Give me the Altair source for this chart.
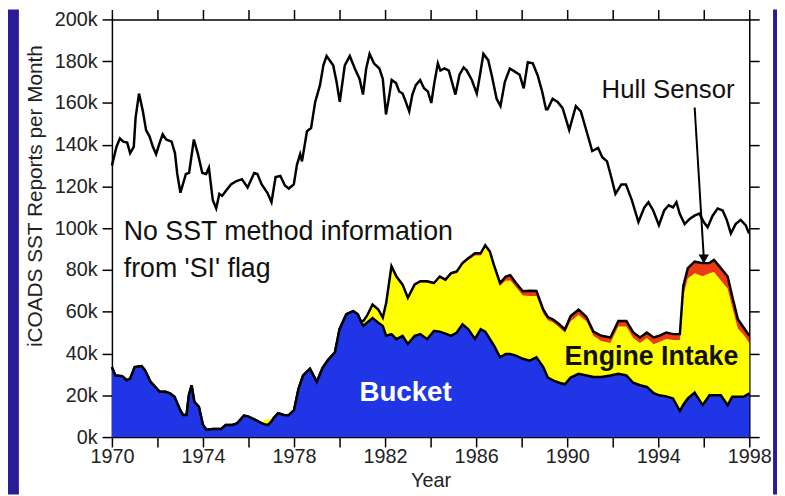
import altair as alt
import pandas as pd

# ---- total SST reports per month (thousands) ----
total_years = [1970.0, 1970.2, 1970.35, 1970.5, 1970.67, 1970.8, 1970.96, 1971.04, 1971.19, 1971.36,
               1971.5, 1971.65, 1971.8, 1971.94, 1972.1, 1972.23, 1972.38, 1972.62, 1972.77, 1972.87,
               1973.01, 1973.25, 1973.39, 1973.6, 1973.78, 1973.97, 1974.14, 1974.26, 1974.43, 1974.58,
               1974.72, 1974.84, 1975.01, 1975.23, 1975.45, 1975.71, 1975.96, 1976.25, 1976.39, 1976.58,
               1976.83, 1977.01, 1977.19, 1977.4, 1977.6, 1977.77, 1977.99, 1978.13, 1978.27, 1978.35,
               1978.57, 1978.75, 1978.93, 1979.14, 1979.29, 1979.43, 1979.72, 1979.87, 1980.01, 1980.23,
               1980.45, 1980.67, 1980.88, 1981.03, 1981.17, 1981.32, 1981.51, 1981.75, 1981.9, 1982.04,
               1982.19, 1982.29, 1982.48, 1982.62, 1982.77, 1982.91, 1983.06, 1983.2, 1983.35, 1983.54,
               1983.71, 1983.88, 1984.03, 1984.17, 1984.32, 1984.43, 1984.61, 1984.8, 1984.94, 1985.09,
               1985.27, 1985.45, 1985.59, 1985.81, 1986.03, 1986.17, 1986.32, 1986.53, 1986.68, 1986.9,
               1987.07, 1987.26, 1987.48, 1987.7, 1987.91, 1988.09, 1988.27, 1988.49, 1988.71, 1988.9,
               1989.07, 1989.14, 1989.36, 1989.58, 1989.8, 1990.09, 1990.38, 1990.6, 1990.81, 1991.1,
               1991.36, 1991.54, 1991.75, 1991.9, 1992.12, 1992.38, 1992.58, 1992.84, 1993.13, 1993.39,
               1993.57, 1993.78, 1994.03, 1994.26, 1994.46, 1994.65, 1994.8, 1994.94, 1995.16, 1995.38,
               1995.59, 1995.81, 1996.0, 1996.17, 1996.39, 1996.61, 1996.83, 1997.01, 1997.19, 1997.4,
               1997.62, 1997.84, 1997.99]
total_k = [130, 139, 143, 141.5, 141, 136, 139, 153, 164.5, 156,
           147, 144, 139, 135.5, 141, 145, 142.5, 141.5, 136, 126,
           117, 126, 126.5, 142.5, 135.5, 126.5, 126, 129, 113.5, 109.5,
           116.5, 115.5, 118, 121, 122.5, 123.5, 119.5, 126.5, 126, 121,
           117, 112.5, 124.5, 125, 120.5, 119, 121, 130.5, 135.5, 132,
           146.5, 148, 160.5, 168.5, 178, 182.5, 178, 170, 160.5, 178,
           182.5, 176.5, 171.5, 164, 176.5, 183.5, 179, 176.5, 171.5, 154.5,
           164, 171, 169.5, 165.5, 164.5, 160.5, 156, 164, 168.5, 171,
           167, 165.5, 160, 170, 179, 175.5, 176.5, 175.5, 170, 164,
           173.5, 177, 175.5, 171, 164.5, 173.5, 183.5, 180.5, 173.5, 162,
           158.5, 170, 176.5, 175, 173.5, 167, 179.5, 179, 173, 165.5,
           157, 157, 162, 160.5, 157.5, 147, 158.5, 156, 148, 137,
           138.5, 134, 132, 126, 116.5, 121, 121, 113.5, 103, 110,
           112.5, 108.5, 101.5, 108.5, 111, 110, 112.5, 107, 102, 104.5,
           106, 107, 103, 100.5, 106, 109.5, 108.5, 104, 97.5, 102,
           104, 101.5, 97.5]

# ---- measurement method (thousands, stacked) ----
area_years = [1970.0, 1970.15, 1970.45, 1970.65, 1970.8, 1971.0, 1971.3, 1971.45, 1971.7, 1971.9,
              1972.1, 1972.35, 1972.55, 1972.75, 1973.0, 1973.12, 1973.28, 1973.38, 1973.5, 1973.62,
              1973.82, 1974.0, 1974.15, 1974.45, 1974.8, 1975.0, 1975.3, 1975.5, 1975.8, 1976.0,
              1976.3, 1976.55, 1976.7, 1976.85, 1977.0, 1977.1, 1977.3, 1977.55, 1977.75, 1978.0,
              1978.2, 1978.4, 1978.7, 1979.0, 1979.25, 1979.5, 1979.8, 1980.0, 1980.3, 1980.6,
              1980.8, 1980.95, 1981.05, 1981.2, 1981.45, 1981.7, 1981.9, 1982.05, 1982.28, 1982.5,
              1982.77, 1983.0, 1983.3, 1983.55, 1983.85, 1984.15, 1984.4, 1984.65, 1984.9, 1985.15,
              1985.4, 1985.65, 1985.95, 1986.2, 1986.4, 1986.6, 1986.8, 1987.05, 1987.3, 1987.5,
              1987.75, 1988.05, 1988.35, 1988.65, 1988.95, 1989.15, 1989.4, 1989.65, 1989.9, 1990.15,
              1990.5, 1990.85, 1991.15, 1991.5, 1991.9, 1992.25, 1992.6, 1992.9, 1993.2, 1993.5,
              1993.8, 1994.05, 1994.35, 1994.65, 1994.95, 1995.1, 1995.3, 1995.6, 1995.95, 1996.25,
              1996.45, 1996.75, 1997.05, 1997.25, 1997.5, 1997.75, 1998.0]
bucket_k = [33.5, 29.5, 29.2, 27.2, 28, 33.5, 34, 32, 26.4, 24,
            21.7, 21.7, 20.9, 19.3, 12.9, 10.6, 10.6, 20, 24.8, 16.9,
            14.5, 5.8, 3.5, 3.9, 3.9, 5.8, 5.8, 6.6, 10.3, 9.8,
            8.2, 6.8, 6.2, 5.8, 7.4, 9, 11.4, 10.6, 10.3, 12.9,
            23.2, 29.5, 32.7, 26.4, 33, 37, 40.6, 51.7, 58.8, 60.3,
            58.8, 55, 53.2, 54.8, 57, 54.8, 53.2, 48.5, 49.3, 46.9,
            48.5, 44.6, 48.5, 49.3, 46.9, 50.9, 50.5, 49.5, 48.5, 50.1,
            54, 51.7, 47, 51.7, 50.5, 47, 43.5, 38.2, 39.8, 39.8,
            39, 37.5, 36.6, 38.2, 33.5, 28.5, 27, 26, 25.3, 28.5,
            30.3, 29.5, 28.8, 28.8, 29.5, 30.3, 29.5, 26, 24.8, 24,
            21, 20, 19.5, 18.5, 12.5, 15.5, 18.5, 21.3, 15.3, 20,
            20, 20, 15.3, 19.3, 19.3, 19.3, 20.9]
engine_k = [0, 0, 0, 0, 0, 0, 0, 0, 0, 0,
            0, 0, 0, 0, 0, 0, 0, 0, 0, 0,
            0, 0, 0, 0, 0, 0, 0, 0, 0, 0,
            0, 0, 1.8, 2.8, 1.2, 0, 0, 0, 0, 0,
            0, 0, 0, 0, 0, 0, 0, 0, 0, 0,
            0, 0.5, 2.5, 3.2, 6.5, 6.3, 4, 15.5, 32, 29.5,
            24, 21.6, 24, 24.7, 27, 22.2, 25.6, 25.1, 29.2, 28.4,
            28.5, 33, 40, 35.3, 40.4, 40.8, 37, 34.1, 35.1, 35.2,
            32.8, 30.3, 31, 29.3, 25.5, 27.5, 27.7, 26.5, 24.7, 27,
            28.2, 25.8, 19.7, 17.2, 15.5, 22.7, 23.5, 21.5, 20.2, 23.5,
            23.5, 25.5, 27.5, 28, 34, 52, 57.4, 57.2, 61.7, 58.5,
            59, 55, 55.7, 42.7, 32.7, 29.7, 24.1]
hull_k = [0, 0, 0, 0, 0, 0, 0, 0, 0, 0,
          0, 0, 0, 0, 0, 0, 0, 0, 0, 0,
          0, 0, 0, 0, 0, 0, 0, 0, 0, 0,
          0, 0, 0, 0, 0, 0, 0, 0, 0, 0,
          0, 0, 0, 0, 0, 0, 0, 0, 0, 0,
          0, 0, 0, 0, 0, 0, 0, 0.3, 0.5, 0.5,
          0.5, 0.5, 0.6, 0.6, 0.7, 0.7, 0.8, 0.8, 0.8, 0.8,
          0.8, 0.9, 1, 1, 1, 1.2, 1.3, 1.5, 2, 2.5,
          2, 2, 2.5, 2.5, 2, 1.5, 1.5, 1.5, 1.5, 2.5,
          2.5, 2.2, 2, 2.5, 2.7, 2.6, 2.6, 2.6, 2.7, 2.6,
          3.2, 3, 3.1, 2.8, 2.8, 4.7, 5, 5.5, 6.3, 4.8,
          5.8, 5.9, 5.9, 5.4, 4.4, 3.5, 3.5]

series_names = ["Bucket", "Engine Intake", "Hull Sensor"]
series_colors = ["#1f35e6", "#ffff00", "#ee3a14"]

x_ticks = list(range(1970, 1999, 2))
y_ticks = list(range(0, 201, 20))

# annotation texts (year, thousands)
note_lines = ["No SST method information", "from 'SI' flag"]
note_year = [1970.52, 1970.52]
note_k = [94.3, 76.8]
arrow_years = [1995.6, 1996.0]
arrow_k = [157.8, 86.0]
tip_year = [1996.0]
tip_k = [85.3]

# ---------- tables ----------
rows = []
for i, y in enumerate(area_years):
    for k, (name, vals) in enumerate(zip(series_names, [bucket_k, engine_k, hull_k])):
        rows.append({"year": y, "series": name, "k": k, "value": vals[i]})
area_df = pd.DataFrame(rows)

bucket_df = pd.DataFrame({"year": area_years, "value": bucket_k})
top_df = pd.DataFrame({"year": area_years,
                       "value": [b + e + h for b, e, h in zip(bucket_k, engine_k, hull_k)]})
top_df = top_df[top_df["year"] >= 1980.95]
total_df = pd.DataFrame({"year": total_years, "value": total_k})

FONT = "Liberation Sans"
BG = "#2a1c96"
xs = alt.Scale(domain=[1970, 1998], nice=False, zero=False)
ys = alt.Scale(domain=[0, 200], nice=False)

# dark frame strips at the left and right edges of the slide
strip_l = alt.Chart(pd.DataFrame({"a": [0]})).mark_rect(color=BG).encode(
    x=alt.value(-106), x2=alt.value(-94), y=alt.value(-10), y2=alt.value(480))
strip_r = alt.Chart(pd.DataFrame({"a": [0]})).mark_rect(color=BG).encode(
    x=alt.value(668), x2=alt.value(680), y=alt.value(-10), y2=alt.value(480))

areas = alt.Chart(area_df).mark_area(interpolate="linear").encode(
    x=alt.X("year:Q", scale=xs, axis=None),
    y=alt.Y("value:Q", stack="zero", scale=ys, axis=None),
    color=alt.Color("series:N", scale=alt.Scale(domain=series_names, range=series_colors), legend=None),
    order=alt.Order("k:Q", sort="ascending"),
)

# carries the bottom / left axes
axis_layer = alt.Chart(bucket_df).mark_line(color="black", strokeWidth=2.5).encode(
    x=alt.X("year:Q", scale=xs,
            axis=alt.Axis(values=x_ticks, format="d", labelFlush=False,
                          labelExpr="datum.value % 4 == 2 ? datum.label : ''",
                          title="Year", titleFontSize=20, titleFont=FONT, titleFontWeight="normal",
                          titleColor="#222", titleY=50, titleBaseline="alphabetic",
                          labelPadding=0)),
    y=alt.Y("value:Q", scale=ys,
            axis=alt.Axis(values=y_ticks, labelExpr="datum.value + 'k'", labelFlush=False,
                          title="iCOADS SST Reports per Month", titleFontSize=21, titleFont=FONT,
                          titleFontWeight="normal", titleColor="#222", titleAngle=270,
                          titleX=-71, titleY=178, titleBaseline="alphabetic", titleAlign="center",
                          labelPadding=5)),
)

bucket_line = alt.Chart(bucket_df).mark_line(color="black", strokeWidth=2.5).encode(
    x=alt.X("year:Q", scale=xs, axis=None),
    y=alt.Y("value:Q", scale=ys, axis=None),
)

top_line = alt.Chart(top_df).mark_line(color="black", strokeWidth=2.5).encode(
    x=alt.X("year:Q", scale=xs, axis=None),
    y=alt.Y("value:Q", scale=ys, axis=None),
)

# carries the top / right axes
total_line = alt.Chart(total_df).mark_line(color="black", strokeWidth=2.5).encode(
    x=alt.X("year:Q", scale=xs, axis=alt.Axis(orient="top", values=x_ticks, labels=False, title=None)),
    y=alt.Y("value:Q", scale=ys, axis=alt.Axis(orient="right", values=y_ticks, labels=False, title=None)),
)

note = alt.Chart(pd.DataFrame({"year": note_year, "value": note_k, "t": note_lines})).mark_text(
    align="left", baseline="alphabetic", font=FONT, fontSize=27, color="#111").encode(
    x=alt.X("year:Q", scale=xs, axis=None), y=alt.Y("value:Q", scale=ys, axis=None), text="t:N")

labels_df = pd.DataFrame({
    "year": [1994.43, 1993.7, 1982.9],
    "value": [162.6, 34.6, 17.1],
    "t": ["Hull Sensor", "Engine Intake", "Bucket"],
})
hull_txt = alt.Chart(labels_df[labels_df.t == "Hull Sensor"]).mark_text(
    align="center", baseline="alphabetic", font=FONT, fontSize=26, color="#111").encode(
    x=alt.X("year:Q", scale=xs, axis=None), y=alt.Y("value:Q", scale=ys, axis=None), text="t:N")
eng_txt = alt.Chart(labels_df[labels_df.t == "Engine Intake"]).mark_text(
    align="center", baseline="alphabetic", font=FONT, fontSize=27, fontWeight="bold", color="#111").encode(
    x=alt.X("year:Q", scale=xs, axis=None), y=alt.Y("value:Q", scale=ys, axis=None), text="t:N")
buck_txt = alt.Chart(labels_df[labels_df.t == "Bucket"]).mark_text(
    align="center", baseline="alphabetic", font=FONT, fontSize=28, fontWeight="bold", color="white").encode(
    x=alt.X("year:Q", scale=xs, axis=None), y=alt.Y("value:Q", scale=ys, axis=None), text="t:N")

arrow = alt.Chart(pd.DataFrame({"year": arrow_years, "value": arrow_k})).mark_line(
    color="black", strokeWidth=2).encode(
    x=alt.X("year:Q", scale=xs, axis=None), y=alt.Y("value:Q", scale=ys, axis=None))
tip = alt.Chart(pd.DataFrame({"year": tip_year, "value": tip_k})).mark_point(
    shape="triangle-down", filled=True, color="black", size=110, opacity=1).encode(
    x=alt.X("year:Q", scale=xs, axis=None), y=alt.Y("value:Q", scale=ys, axis=None))

chart = alt.layer(axis_layer, total_line, areas, bucket_line, top_line, note, hull_txt, eng_txt,
                  buck_txt, arrow, tip, strip_l, strip_r).resolve_axis(
    x="independent", y="independent").properties(
    width=644, height=422,
    padding={"left": 105, "top": 9, "right": 28, "bottom": 57},
    autosize=alt.AutoSizeParams(type="none"),
).configure(background="white").configure_view(stroke=None).configure_axis(
    domainColor="black", domainWidth=1.5, tickColor="black", tickWidth=1.5, tickSize=10,
    labelFont=FONT, labelFontSize=20, labelColor="#222", grid=False, zindex=1, labelFlush=False,
)

chart.save("out.html", embed_options={"renderer": "svg", "actions": False})
